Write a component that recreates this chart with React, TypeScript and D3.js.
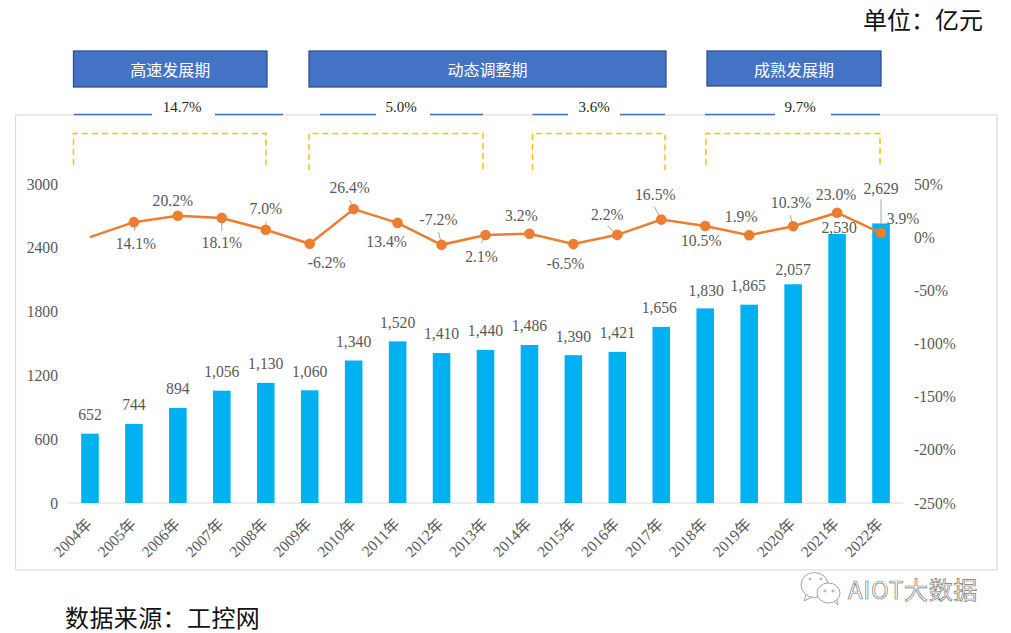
import { useEffect, useRef } from 'react'
import * as d3 from 'd3'

const W = 1011
const H = 633

const years = ['2004年', '2005年', '2006年', '2007年', '2008年', '2009年', '2010年', '2011年', '2012年', '2013年', '2014年', '2015年', '2016年', '2017年', '2018年', '2019年', '2020年', '2021年', '2022年']
const revenue = [652, 744, 894, 1056, 1130, 1060, 1340, 1520, 1410, 1440, 1486, 1390, 1421, 1656, 1830, 1865, 2057, 2530, 2629]
const growth = [0, 14.1, 20.2, 18.1, 7.0, -6.2, 26.4, 13.4, -7.2, 2.1, 3.2, -6.5, 2.2, 16.5, 10.5, 1.9, 10.3, 23.0, 3.9]
const leftTicks = [0, 600, 1200, 1800, 2400, 3000]
const rightTicks = [-250, -200, -150, -100, -50, 0, 50]
const phases = ['高速发展期', '动态调整期', '成熟发展期']
const spans = ['14.7%', '5.0%', '3.6%', '9.7%']

// layout only, px
const PLOT = { left: 68, right: 903, top: 184, bottom: 503 }
const phaseBoxes = [
  { x0: 73.5, x1: 267, y1: 87 },
  { x0: 309, x1: 666, y1: 87 },
  { x0: 707, x1: 881, y1: 86 },
]
const spanLayout = [
  { x0: 74, gap0: 152, gap1: 215, x1: 283, cx: 182 },
  { x0: 320, gap0: 376, gap1: 430, x1: 483, cx: 401 },
  { x0: 532.5, gap0: 568, gap1: 620, x1: 665, cx: 594 },
  { x0: 705, gap0: 775, gap1: 831, x1: 880, cx: 800 },
]
const brackets = [
  { x0: 73.5, x1: 266, y1: 165 },
  { x0: 309, x1: 483, y1: 170 },
  { x0: 532.5, x1: 665, y1: 170 },
  { x0: 706, x1: 880, y1: 165 },
]
// growth label offset from its point: [dx, dy of label centre], null = no label
const growthLabelOffset: ([number, number] | null)[] = [
  null, [2, 21], [-5, -15], [0, 25], [0, -21], [17, 19], [-4, -21], [-11, 19], [-3, -25], [-4, 22],
  [-8, -18], [-8, 20], [-10, -20], [-6, -25], [-4, 15], [-8, -18], [-2, -24], [-1, -18], [22, -14],
]
// leader lines for growth labels: [from dx, from dy] relative to point
const leaderFrom: ([number, number] | null)[] = [
  null, [1, 9], null, [0, 13], [0, -8], null, [-4, -9], null, [-3, -13], [-4, 8],
  null, null, [-10, -9], [-7, -13], null, null, [-3, -11], null, null,
]
const barLabelOffset: Record<string, [number, number]> = {
  '2017年': [-2, -19],
  '2018年': [1, -18],
  '2019年': [-1, -19],
  '2020年': [0, -14.5],
  '2021年': [2, -6],
  '2022年': [0, -35],
}

const SERIF = '"Liberation Serif", "Noto Sans CJK SC", serif'
const CJK = '"Noto Sans CJK SC", sans-serif'
const GREY = '#595959'
const LABEL_SIZE = 15.7

function render(el: SVGSVGElement) {
  const svg = d3.select(el)
  svg.selectAll('*').remove()
  svg.style('font-family', SERIF)

  const x = d3.scaleBand<string>().domain(years).range([PLOT.left, PLOT.right]).paddingInner(0.6).paddingOuter(0.3)
  const y = d3.scaleLinear().domain([0, 3000]).range([PLOT.bottom, PLOT.top])
  const y2 = d3.scaleLinear().domain([-250, 50]).range([PLOT.bottom, PLOT.top])
  const cx = (yr: string) => x(yr)! + x.bandwidth() / 2

  // Frame
  svg.append('rect')
    .attr('x', 15.5).attr('y', 115).attr('width', 981.5).attr('height', 455)
    .attr('fill', '#fff').attr('stroke', '#dcdcdc').attr('stroke-width', 1.2)

  // Phase boxes
  phaseBoxes.forEach((b, i) => {
    svg.append('rect')
      .attr('x', b.x0).attr('y', 51).attr('width', b.x1 - b.x0).attr('height', b.y1 - 51)
      .attr('fill', '#4472C4').attr('stroke', '#2F528F').attr('stroke-width', 1.3)
    svg.append('text')
      .attr('x', (b.x0 + b.x1) / 2).attr('y', 70).attr('dy', '0.36em')
      .attr('text-anchor', 'middle').attr('font-size', 16).attr('fill', '#fff')
      .attr('font-family', CJK).text(phases[i])
  })

  // CAGR spans
  spanLayout.forEach((s, i) => {
    svg.append('rect')
      .attr('x', s.gap0).attr('y', 97).attr('width', s.gap1 - s.gap0).attr('height', 22)
      .attr('fill', '#fff')
    ;[[s.x0, s.gap0], [s.gap1, s.x1]].forEach(([a, b]) => {
      svg.append('line')
        .attr('x1', a).attr('x2', b).attr('y1', 114.5).attr('y2', 114.5)
        .attr('stroke', '#4472C4').attr('stroke-width', 1.5)
    })
    svg.append('text')
      .attr('x', s.cx).attr('y', 110.5).attr('dy', '0.1em')
      .attr('text-anchor', 'middle').attr('font-size', 15).attr('fill', '#262626')
      .text(spans[i])
  })

  // Dashed brackets
  brackets.forEach((b) => {
    svg.append('path')
      .attr('d', `M${b.x0},${b.y1}V133.5H${b.x1}V${b.y1}`)
      .attr('fill', 'none').attr('stroke', '#FFC000').attr('stroke-width', 1.5)
      .attr('stroke-dasharray', '6,4')
  })

  // Baseline
  svg.append('line')
    .attr('x1', PLOT.left).attr('x2', PLOT.right).attr('y1', PLOT.bottom).attr('y2', PLOT.bottom)
    .attr('stroke', '#dcdcdc').attr('stroke-width', 1.2)

  // Bars
  svg.append('g').selectAll('rect').data(years).join('rect')
    .attr('x', (d) => x(d)!)
    .attr('width', x.bandwidth())
    .attr('y', (_, i) => y(revenue[i]))
    .attr('height', (_, i) => PLOT.bottom - y(revenue[i]))
    .attr('fill', '#00B0F0')

  // Bar labels
  svg.append('g').selectAll('text').data(years).join('text')
    .attr('x', (d) => cx(d) + (barLabelOffset[d]?.[0] ?? 0))
    .attr('y', (d, i) => y(revenue[i]) + (barLabelOffset[d]?.[1] ?? -19))
    .attr('dy', '0.34em')
    .attr('text-anchor', 'middle').attr('font-size', LABEL_SIZE).attr('fill', GREY)
    .text((_, i) => d3.format(',')(revenue[i]))

  // 2022 leader from its bar label
  const last = years[years.length - 1]
  svg.append('line')
    .attr('x1', cx(last)).attr('x2', cx(last))
    .attr('y1', y(revenue[revenue.length - 1]) - 24)
    .attr('y2', y(revenue[revenue.length - 1]))
    .attr('stroke', '#a6a6a6').attr('stroke-width', 1)

  // Growth line
  const line = d3.line<number>().x((_, i) => cx(years[i])).y((d) => y2(d))
  svg.append('path')
    .attr('d', line(growth))
    .attr('fill', 'none').attr('stroke', '#ED7D31').attr('stroke-width', 2.5)

  // Leaders
  growth.forEach((v, i) => {
    const from = leaderFrom[i]
    if (!from) return
    const px = cx(years[i])
    const py = y2(v)
    svg.append('line')
      .attr('x1', px + from[0]).attr('y1', py + from[1])
      .attr('x2', px).attr('y2', py)
      .attr('stroke', '#a6a6a6').attr('stroke-width', 1)
  })

  // Markers, first year has none
  svg.append('g').selectAll('circle').data(growth.slice(1)).join('circle')
    .attr('cx', (_, i) => cx(years[i + 1]))
    .attr('cy', (d) => y2(d))
    .attr('r', 5.3)
    .attr('fill', '#ED7D31')

  // Growth labels
  growth.forEach((v, i) => {
    const off = growthLabelOffset[i]
    if (!off) return
    svg.append('text')
      .attr('x', cx(years[i]) + off[0])
      .attr('y', y2(v) + off[1])
      .attr('dy', '0.34em')
      .attr('text-anchor', 'middle').attr('font-size', LABEL_SIZE).attr('fill', GREY)
      .text(`${v.toFixed(1)}%`)
  })

  // Left axis
  svg.append('g')
    .attr('transform', `translate(${PLOT.left - 10},0)`)
    .call(d3.axisLeft(y).tickValues(leftTicks).tickSize(0).tickFormat((d) => `${d}`))
    .call((sel) => sel.select('.domain').remove())
    .call((sel) => sel.selectAll('text')
      .attr('font-size', LABEL_SIZE).attr('font-family', SERIF).attr('fill', GREY).attr('x', 0))

  // Right axis
  svg.append('g')
    .attr('transform', `translate(${PLOT.right + 11},0)`)
    .call(d3.axisRight(y2).tickValues(rightTicks).tickSize(0).tickFormat((d) => `${d}%`))
    .call((sel) => sel.select('.domain').remove())
    .call((sel) => sel.selectAll('text')
      .attr('font-size', LABEL_SIZE).attr('font-family', SERIF).attr('fill', GREY).attr('x', 0))

  // X labels
  svg.append('g').selectAll('text').data(years).join('text')
    .attr('transform', (d) => `translate(${cx(d) + 3},${PLOT.bottom + 22}) rotate(-45)`)
    .attr('text-anchor', 'end')
    .attr('font-size', 15.5)
    .attr('fill', GREY)
    .text((d) => d)

  // Unit and source
  svg.append('text')
    .attr('x', 983).attr('y', 20).attr('dy', '0.36em').attr('text-anchor', 'end')
    .attr('font-size', 24).attr('font-family', CJK).attr('fill', '#111').text('单位：亿元')
  svg.append('text')
    .attr('x', 65).attr('y', 618).attr('dy', '0.36em').attr('letter-spacing', 0.4)
    .attr('font-size', 24).attr('font-family', CJK).attr('fill', '#111').text('数据来源：工控网')

  // Watermark
  const mark = svg.append('g').attr('fill', '#fff').attr('stroke', '#999').attr('stroke-width', 0.9)
  mark.append('path').attr('d', 'M806,595L804,601L812,597')
  mark.append('ellipse').attr('cx', 814.5).attr('cy', 585).attr('rx', 13.5).attr('ry', 12.5)
  mark.append('path').attr('d', 'M833,600L838,605L836,596')
  mark.append('ellipse').attr('cx', 828.5).attr('cy', 593).attr('rx', 11.5).attr('ry', 10)
  ;[[810, 579], [821, 579], [825, 591], [833, 591]].forEach(([a, b]) => {
    mark.append('circle').attr('cx', a).attr('cy', b).attr('r', 1)
  })
  svg.append('text')
    .attr('x', 848).attr('y', 590).attr('dy', '0.36em').attr('letter-spacing', 0.7)
    .attr('font-size', 24).attr('font-family', CJK)
    .attr('fill', '#fff').attr('stroke', '#777').attr('stroke-width', 0.7)
    .text('AIOT大数据')
}

export default function App() {
  const ref = useRef<SVGSVGElement>(null)

  useEffect(() => {
    if (ref.current) render(ref.current)
  }, [])

  return (
    <svg
      ref={ref}
      width={W}
      height={H}
      viewBox={`0 0 ${W} ${H}`}
      style={{ position: 'absolute', left: 0, top: 0, display: 'block', background: '#fff' }}
    />
  )
}
